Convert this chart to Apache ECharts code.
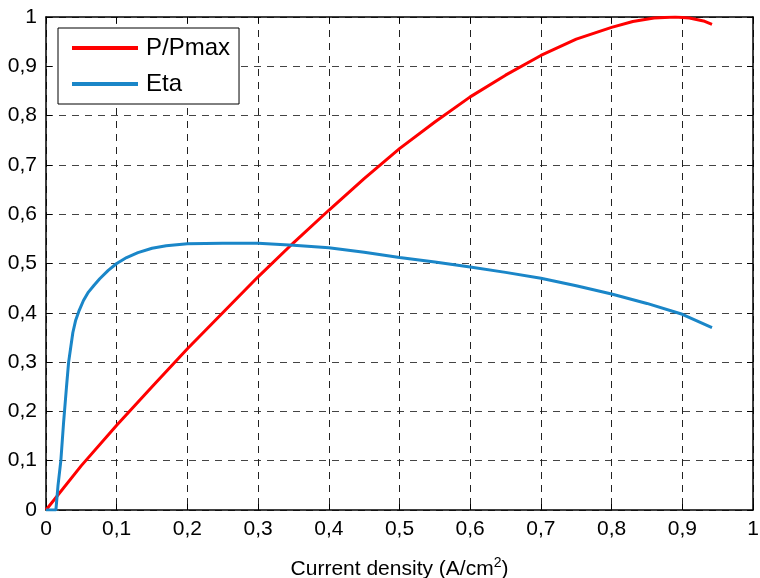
<!DOCTYPE html>
<html>
<head>
<meta charset="utf-8">
<script src="https://cdn.jsdelivr.net/npm/echarts@6/dist/echarts.min.js"></script>
<style>
  html, body { margin: 0; padding: 0; background: #fff; }
  #chart { width: 760px; height: 578px; }
</style>
</head>
<body>
<div id="chart"></div>
<script>
// data: [current density, value]
const pPmax = [
  [0, 0], [0.05, 0.09], [0.1, 0.172], [0.15, 0.25], [0.2, 0.327], [0.25, 0.4],
  [0.3, 0.473], [0.35, 0.542], [0.4, 0.608], [0.45, 0.672], [0.5, 0.733],
  [0.55, 0.787], [0.6, 0.838], [0.65, 0.882], [0.7, 0.922], [0.75, 0.955],
  [0.8, 0.979], [0.83, 0.991], [0.86, 0.998], [0.89, 1.0], [0.91, 0.998],
  [0.93, 0.992], [0.942, 0.985]
]
const eta = [
  [0, 0], [0.014, 0], [0.017, 0.05], [0.021, 0.1], [0.025, 0.18], [0.029, 0.25],
  [0.032, 0.3], [0.035, 0.33], [0.038, 0.36], [0.042, 0.385], [0.047, 0.405],
  [0.053, 0.425], [0.06, 0.442], [0.068, 0.456], [0.076, 0.469], [0.088, 0.486],
  [0.1, 0.5], [0.114, 0.512], [0.13, 0.522], [0.15, 0.531], [0.17, 0.536],
  [0.2, 0.54], [0.25, 0.541], [0.3, 0.541], [0.35, 0.537], [0.4, 0.532],
  [0.45, 0.523], [0.5, 0.512], [0.55, 0.503], [0.6, 0.493], [0.65, 0.482],
  [0.7, 0.47], [0.75, 0.455], [0.8, 0.438], [0.85, 0.419], [0.9, 0.397],
  [0.942, 0.37]
]
const seriesNames = ['P/Pmax', 'Eta']
const axisName = 'Current density (A/cm'

const font = 'Liberation Sans, Arial, sans-serif'
const comma = v => String(Math.round(v * 10) / 10).replace('.', ',')

const chart = echarts.init(document.getElementById('chart'))

// shared look for the box axes
const boxAxis = (extra) => Object.assign({
  type: 'value',
  min: 0,
  max: 1,
  interval: 0.1,
  axisLine: { show: true, onZero: false, lineStyle: { color: '#000', width: 1.5 } },
  axisTick: { show: true, inside: true, length: 6, lineStyle: { color: '#000' } },
  splitLine: { show: false },
  axisLabel: { show: false }
}, extra)

chart.setOption({
  animation: false,
  grid: { left: 46, right: 7, top: 17, bottom: 68, containLabel: false, outerBoundsMode: 'none' },
  legend: {
    orient: 'vertical',
    left: 58,
    top: 28,
    padding: [8, 9, 8, 14],
    itemGap: 12,
    itemWidth: 66,
    itemHeight: 4,
    icon: 'rect',
    borderColor: '#000',
    borderWidth: 1,
    backgroundColor: '#fff',
    textStyle: { fontFamily: font, fontSize: 24, color: '#000', padding: [0, 0, 0, 3] },
    data: seriesNames
  },
  xAxis: [
    boxAxis({
      position: 'bottom',
      axisLabel: {
        show: true, formatter: comma, fontFamily: font, fontSize: 21,
        color: '#000', margin: 9
      },
      splitLine: { show: true, lineStyle: { color: '#222', type: [7, 6], width: 1 } },
      name: `{a|${axisName}}{s|2}{a|)}`,
      nameLocation: 'middle',
      nameGap: 46,
      nameTextStyle: {
        rich: {
          a: { fontFamily: font, fontSize: 21, color: '#000' },
          s: { fontFamily: font, fontSize: 14, color: '#000', verticalAlign: 'top', padding: [0, 0, 12, 0] }
        }
      }
    }),
    boxAxis({ position: 'top' })
  ],
  yAxis: [
    boxAxis({
      position: 'left',
      axisLabel: {
        show: true, formatter: comma, fontFamily: font, fontSize: 21,
        color: '#000', margin: 9
      },
      splitLine: { show: true, lineStyle: { color: '#444', type: [7, 6], width: 1 } }
    }),
    boxAxis({ position: 'right' })
  ],
  series: [
    {
      name: seriesNames[0],
      type: 'line',
      data: pPmax,
      showSymbol: false,
      z: 3,
      lineStyle: { color: '#ff0000', width: 3 },
      itemStyle: { color: '#ff0000' }
    },
    {
      name: seriesNames[1],
      type: 'line',
      data: eta,
      showSymbol: false,
      z: 4,
      lineStyle: { color: '#1a86c8', width: 3 },
      itemStyle: { color: '#1a86c8' }
    }
  ]
})
</script>
</body>
</html>
